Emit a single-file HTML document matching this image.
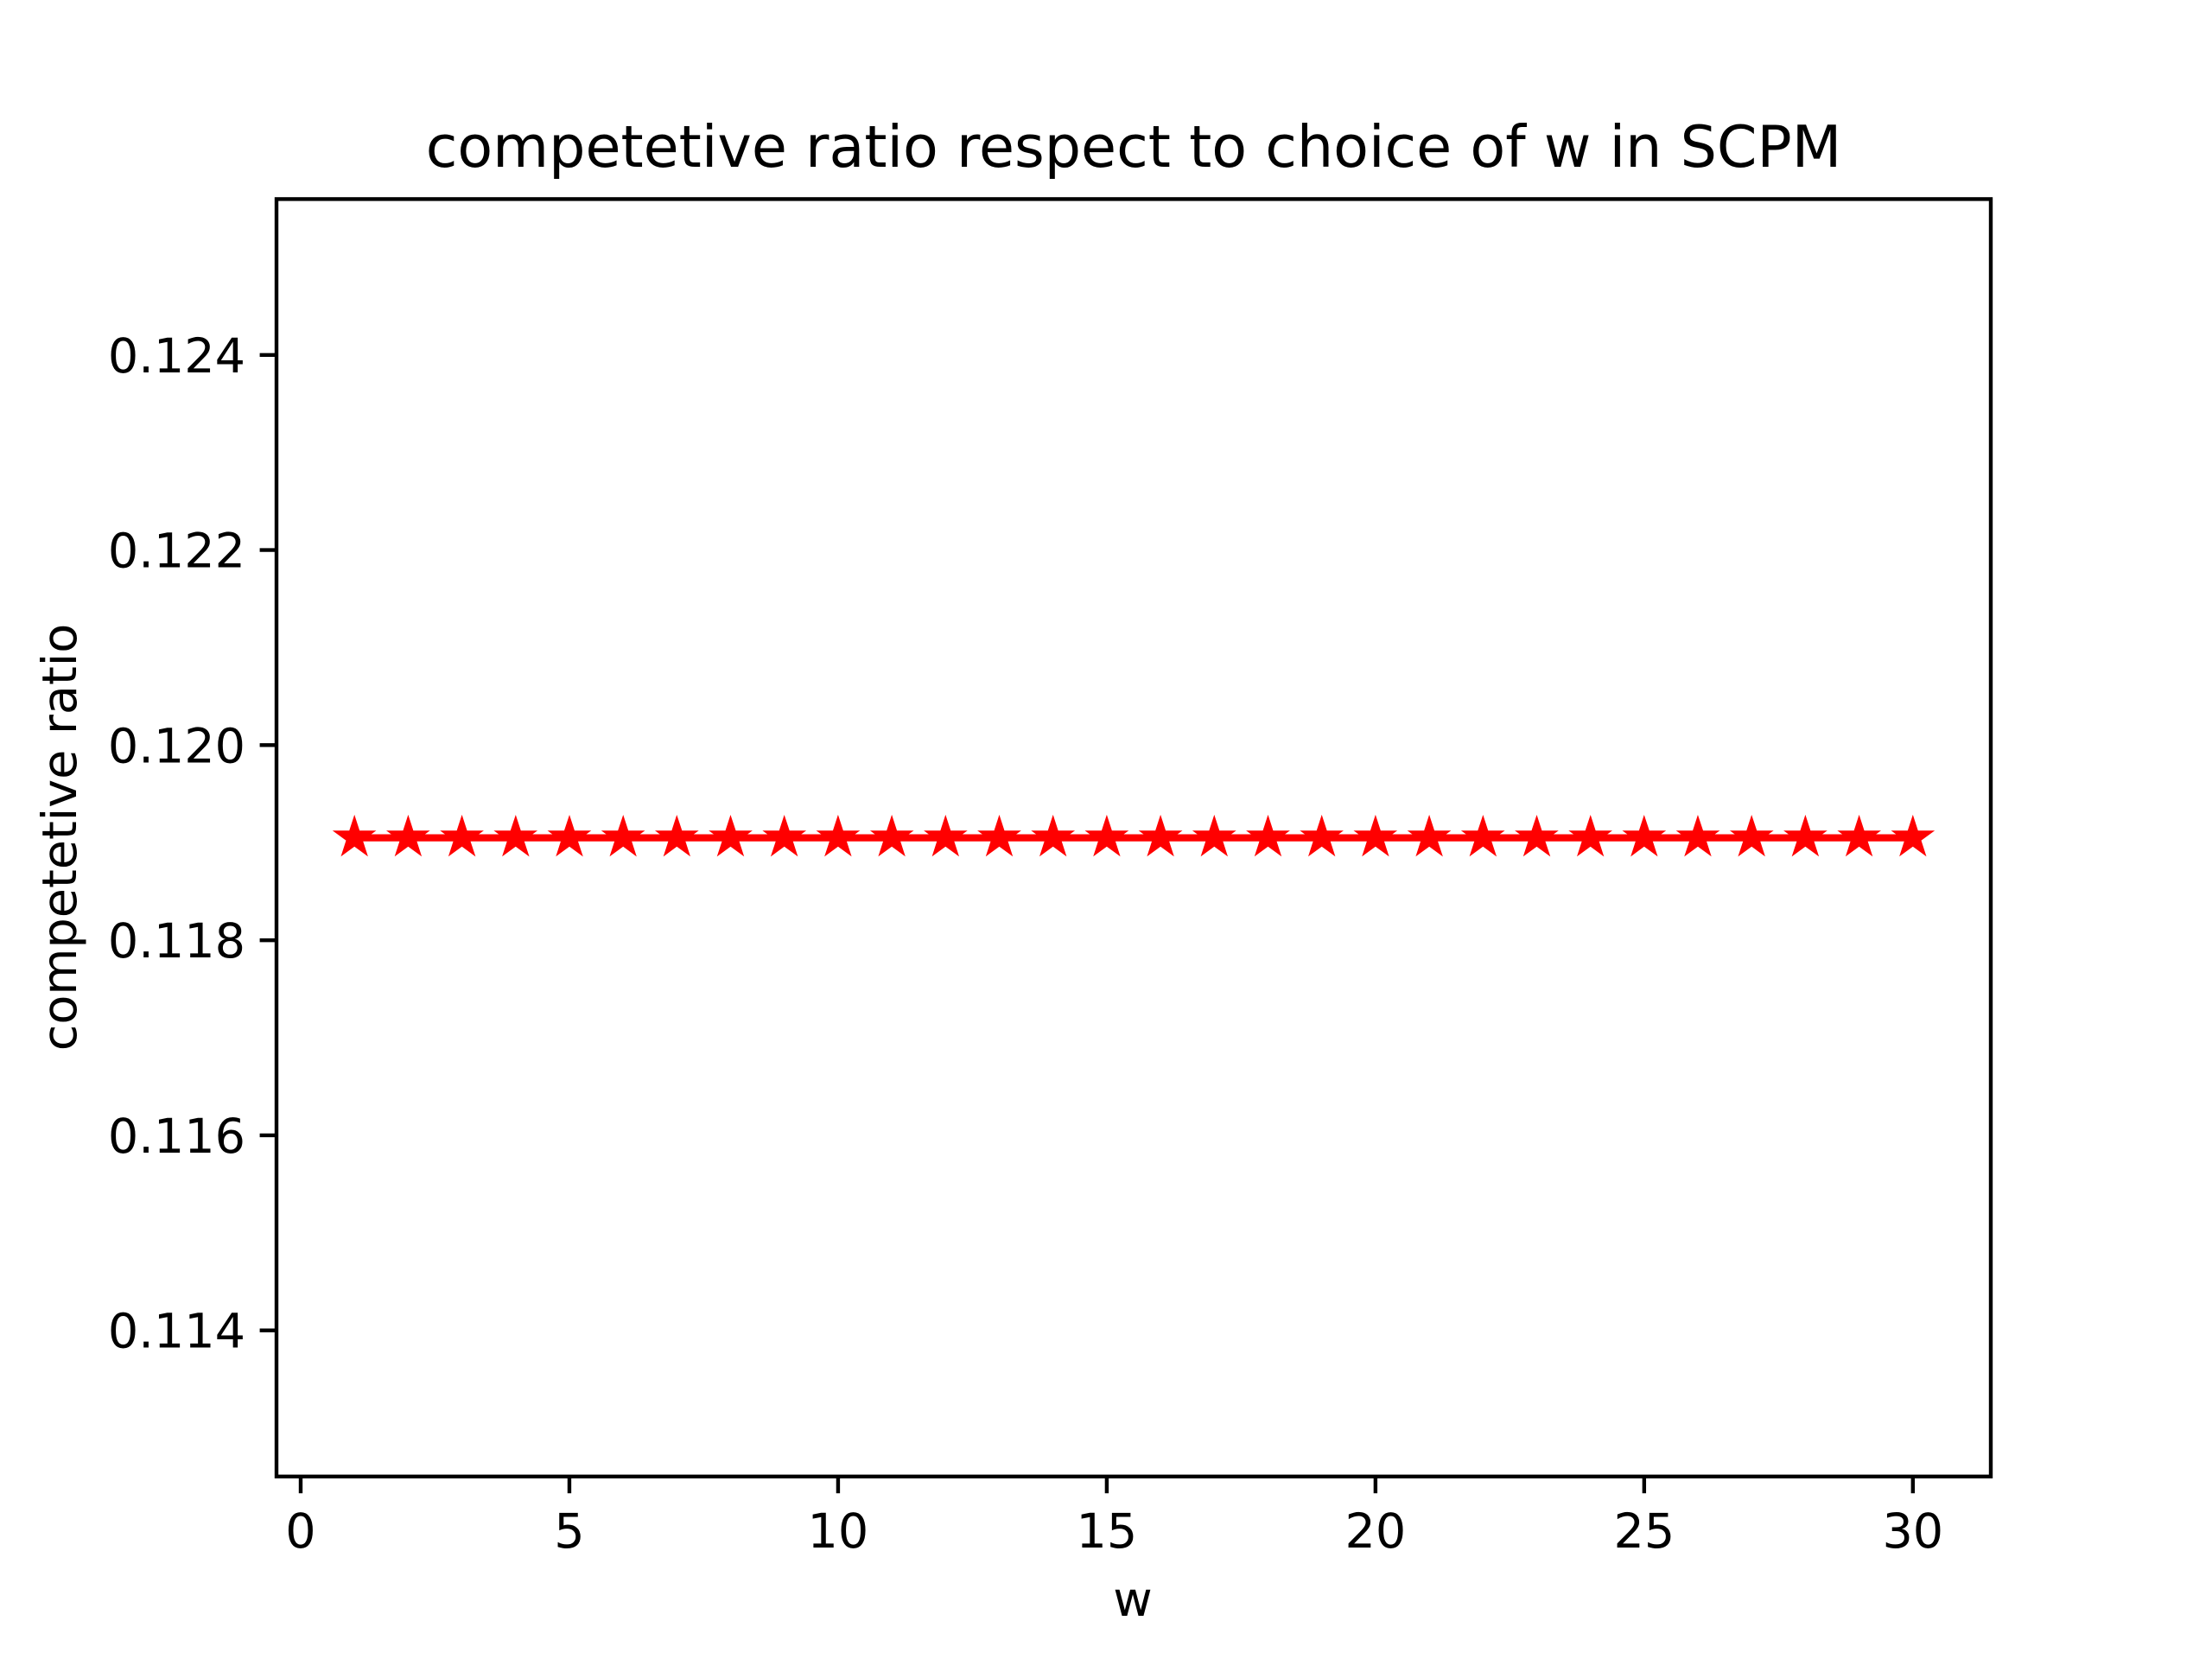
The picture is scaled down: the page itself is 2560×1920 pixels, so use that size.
<!DOCTYPE html>
<html><head><meta charset="utf-8"><style>
html,body{margin:0;padding:0;background:#fff}
svg{display:block;font-family:"DejaVu Sans","Liberation Sans",sans-serif}
</style></head><body>
<svg id="chart" width="2560" height="1920" viewBox="0 0 2560 1920" xmlns="http://www.w3.org/2000/svg">
<rect width="2560" height="1920" fill="#fff"/>
<text x="1312" y="193" font-size="66.7" text-anchor="middle">competetive ratio respect to choice of w in SCPM</text>
<g id="plot"></g>
<rect x="320" y="230.4" width="1984" height="1478.4" fill="none" stroke="#000" stroke-width="4.4"/>
<text x="1311" y="1870" font-size="55.6" text-anchor="middle">w</text>
<text x="0" y="0" font-size="55.6" text-anchor="middle" transform="translate(88,969) rotate(-90)">competetive ratio</text>
</svg>
<script>
const wValues = [1,2,3,4,5,6,7,8,9,10,11,12,13,14,15,16,17,18,19,20,21,22,23,24,25,26,27,28,29,30];
const ratioValues = [0.11905,0.11905,0.11905,0.11905,0.11905,0.11905,0.11905,0.11905,0.11905,0.11905,0.11905,0.11905,0.11905,0.11905,0.11905,0.11905,0.11905,0.11905,0.11905,0.11905,0.11905,0.11905,0.11905,0.11905,0.11905,0.11905,0.11905,0.11905,0.11905,0.11905];
const xTicks = [0,5,10,15,20,25,30];
const yTicks = [0.114,0.116,0.118,0.120,0.122,0.124];
const yTickLabels = ["0.114","0.116","0.118","0.120","0.122","0.124"];

const L=320,R=2304,T=230.4,B=1708.8;
const xmin0=Math.min(...wValues), xmax0=Math.max(...wValues);
const xm=(xmax0-xmin0)*0.05, xmin=xmin0-xm, xmax=xmax0+xm;
let ymin0=Math.min(...ratioValues), ymax0=Math.max(...ratioValues);
if(ymax0-ymin0<1e-12){const d=Math.abs(ymin0)*0.05||0.05; ymin0-=d; ymax0+=d;}
const ym=(ymax0-ymin0)*0.05, ymin=ymin0-ym, ymax=ymax0+ym;
const X=v=>L+(v-xmin)/(xmax-xmin)*(R-L);
const Y=v=>B-(v-ymin)/(ymax-ymin)*(B-T);
const NS="http://www.w3.org/2000/svg";
const svg=document.getElementById('chart');
const plot=document.getElementById('plot');
function mk(t,a,p){const e=document.createElementNS(NS,t);for(const k in a)e.setAttribute(k,a[k]);(p||svg).appendChild(e);return e;}

xTicks.forEach(t=>{
  const x=X(t);
  const l=mk('line',{x1:x,x2:x,y1:B,y2:B+19.4,stroke:'#000','stroke-width':4.4});
  
  
  const tx=mk('text',{x:x,y:B+82,'font-size':55.6,'text-anchor':'middle'});
  tx.textContent=String(t);
  
  
});
yTicks.forEach((t,i)=>{
  const y=Y(t);
  const l=mk('line',{x1:L-19.4,x2:L,y1:y,y2:y,stroke:'#000','stroke-width':4.4});
  
  
  const tx=mk('text',{x:L-36,y:y+20,'font-size':55.6,'text-anchor':'end'});
  tx.textContent=yTickLabels[i];
  
  
});
const pts=wValues.map((w,i)=>X(w)+','+Y(ratioValues[i])).join(' ');
const line=mk('polyline',{points:pts,fill:'none',stroke:'#ff0000','stroke-width':8.3},plot);


function star(cx,cy,r){let p=[];for(let k=0;k<10;k++){const rr=k%2?r*0.382:r;const a=-Math.PI/2+k*Math.PI/5;p.push((cx+rr*Math.cos(a)).toFixed(1)+','+(cy+rr*Math.sin(a)).toFixed(1));}return p.join(' ');}
wValues.forEach((w,i)=>{
  const s=mk('polygon',{points:star(X(w),Y(ratioValues[i]),17),fill:'#ff0000',stroke:'#ff0000','stroke-width':6,'stroke-linejoin':'miter'},plot);
  
  
});
</script>
</body></html>
